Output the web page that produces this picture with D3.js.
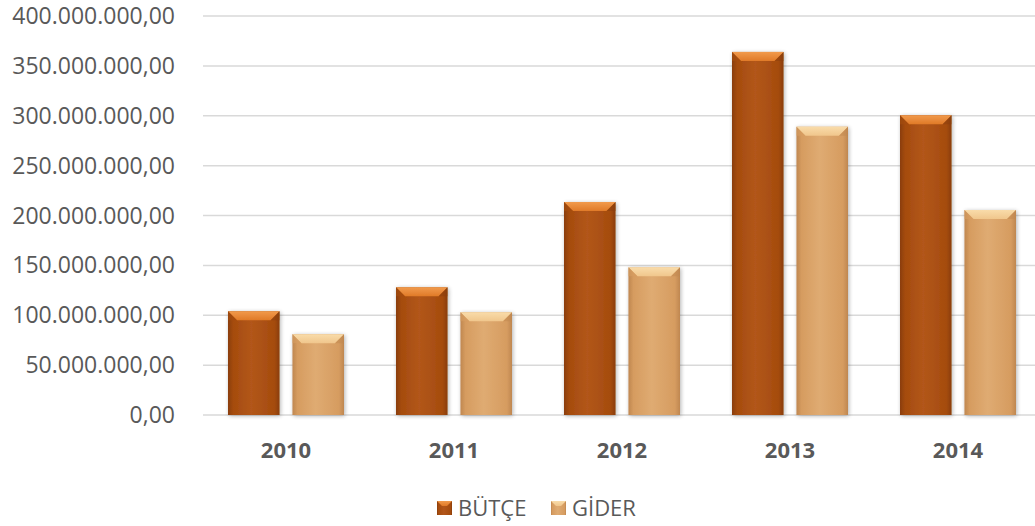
<!DOCTYPE html>
<html><head><meta charset="utf-8">
<script src="https://cdn.jsdelivr.net/npm/d3@7"></script>
<style>html,body{margin:0;padding:0;background:#fff;}svg{display:block;font-family:"Open Sans",sans-serif;}</style>
</head><body>
<svg id="c" width="1035" height="526"></svg>
<script>
const years = ["2010","2011","2012","2013","2014"];
const seriesNames = ["BÜTÇE","GİDER"];
const butce = [104000000,128000000,213500000,364000000,300500000];
const gider = [81000000,103000000,148000000,289000000,205500000];
const yTicks = [0,50000000,100000000,150000000,200000000,250000000,300000000,350000000,400000000];

const svg = d3.select("#c");
const W = 1035, H = 526;
const x0 = d3.scaleBand().domain(years).range([202,1042]).paddingInner(0).paddingOuter(0);
const y = d3.scaleLinear().domain([0,400000000]).range([415,16]);
const x1 = d3.scaleBand().domain(seriesNames).range([26,142]).paddingInner(0.2);

const fmt = v => {
  const s = d3.format(",.2f")(v);
  return s.replace(/,/g,"#").replace(".",",").replace(/#/g,".");
};

const defs = svg.append("defs");
const pal = {
  "BÜTÇE": {main:"#a54c0e", light:"#b2561a", dark:"#8a3d0a", top:"#e07a28", topEdge:"#f19a4c"},
  "GİDER": {main:"#d69c60", light:"#dfab72", dark:"#bf8750", top:"#f0c68c", topEdge:"#f9dcaa"}
};
seriesNames.forEach((s,i)=>{
  const p = pal[s];
  const g = defs.append("linearGradient").attr("id","g"+i).attr("x1","0").attr("x2","1").attr("y1","0").attr("y2","0");
  g.append("stop").attr("offset","0").attr("stop-color",p.dark);
  g.append("stop").attr("offset","0.1").attr("stop-color",p.main);
  g.append("stop").attr("offset","0.45").attr("stop-color",p.light);
  g.append("stop").attr("offset","0.9").attr("stop-color",p.main);
  g.append("stop").attr("offset","1").attr("stop-color",p.dark);
  const t = defs.append("linearGradient").attr("id","t"+i).attr("x1","0").attr("x2","0").attr("y1","0").attr("y2","1");
  t.append("stop").attr("offset","0").attr("stop-color",p.topEdge);
  t.append("stop").attr("offset","1").attr("stop-color",p.top);
});
const f = defs.append("filter").attr("id","sh").attr("x","-20%").attr("y","-5%").attr("width","140%").attr("height","115%");
f.append("feGaussianBlur").attr("in","SourceAlpha").attr("stdDeviation","2");
f.append("feOffset").attr("dx","1").attr("dy","1").attr("result","b");
f.append("feComponentTransfer").append("feFuncA").attr("type","linear").attr("slope","0.3");
const fm = f.append("feMerge"); fm.append("feMergeNode"); fm.append("feMergeNode").attr("in","SourceGraphic");

// grid
svg.append("g").selectAll("line").data(yTicks).join("line")
  .attr("x1",203).attr("x2",W).attr("y1",d=>y(d)).attr("y2",d=>y(d))
  .attr("stroke","#d9d9d9").attr("stroke-width",1.5);

// y labels
svg.append("g").selectAll("text").data(yTicks).join("text")
  .attr("x",175).attr("y",d=>y(d)).attr("dy","0.35em").attr("text-anchor","end")
  .attr("font-size",23).attr("fill","#595959").text(fmt);

// bars
const data = years.map((yr,i)=>({yr, vals:[{s:"BÜTÇE",v:butce[i],k:0},{s:"GİDER",v:gider[i],k:1}]}));
const grp = svg.append("g").selectAll("g").data(data).join("g").attr("transform",d=>`translate(${x0(d.yr)},0)`);
const bar = grp.selectAll("g").data(d=>d.vals).join("g").attr("filter","url(#sh)");
bar.append("rect").attr("x",d=>x1(d.s)).attr("y",d=>y(d.v)).attr("width",x1.bandwidth()).attr("height",d=>y(0)-y(d.v))
  .attr("fill",d=>`url(#g${d.k})`);
const bv = 9;
bar.append("path").attr("d",d=>{
  const xa=x1(d.s), xb=xa+x1.bandwidth(), yt=y(d.v);
  return `M${xa},${yt}L${xb},${yt}L${xb-bv},${yt+bv}L${xa+bv},${yt+bv}Z`;
}).attr("fill",d=>`url(#t${d.k})`);
bar.append("path").attr("d",d=>{
  const xb=x1(d.s)+x1.bandwidth(), yt=y(d.v);
  return `M${xb},${yt}L${xb-bv},${yt+bv}L${xb},${yt+bv}Z`;
}).attr("fill",d=>pal[d.s].dark).attr("opacity",0.5);
bar.append("path").attr("d",d=>{
  const xa=x1(d.s), yt=y(d.v);
  return `M${xa},${yt}L${xa+bv},${yt+bv}L${xa},${yt+bv}Z`;
}).attr("fill",d=>pal[d.s].main).attr("opacity",0.6);

// x labels
svg.append("g").selectAll("text").data(years).join("text")
  .attr("x",d=>x0(d)+x0.bandwidth()/2).attr("y",458).attr("text-anchor","middle")
  .attr("font-size",22).attr("font-weight","bold").attr("fill","#595959").text(d=>d);

// legend
const lgX = [437,551];
const lg = svg.append("g").selectAll("g").data(seriesNames).join("g").attr("transform",(d,i)=>`translate(${lgX[i]},501)`);
lg.append("rect").attr("width",15).attr("height",14).attr("fill",(d,i)=>`url(#g${i})`);
lg.append("path").attr("d","M0,0L15,0L10,5L5,5Z").attr("fill",(d,i)=>`url(#t${i})`);
lg.append("text").attr("x",21).attr("y",7).attr("dy","0.36em").attr("font-size",22).attr("fill","#595959").text(d=>d);
</script>
</body></html>
